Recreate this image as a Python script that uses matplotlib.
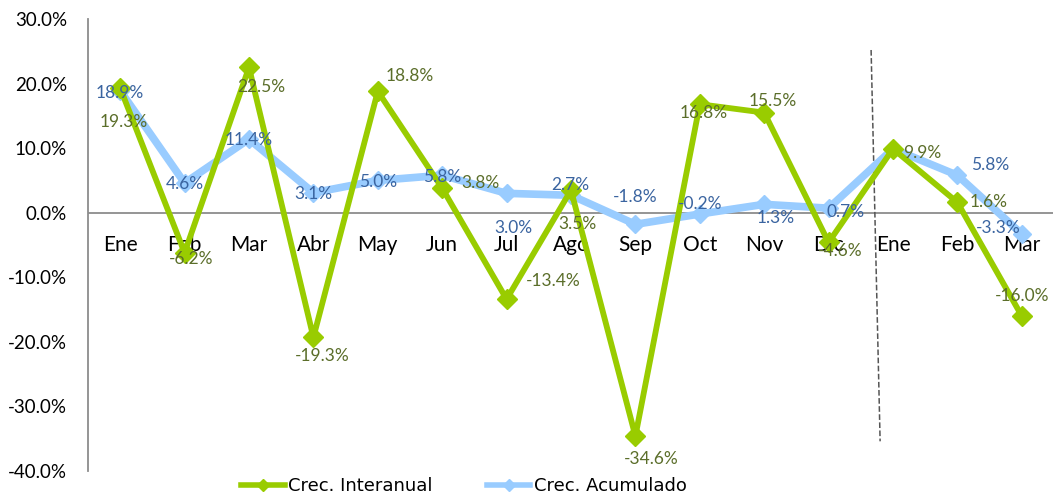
import matplotlib.pyplot as plt
from matplotlib.lines import Line2D

# data
months = ["Ene", "Feb", "Mar", "Abr", "May", "Jun", "Jul", "Ago", "Sep", "Oct",
          "Nov", "Dic", "Ene", "Feb", "Mar"]
interanual = [19.3, -6.2, 22.5, -19.3, 18.8, 3.8, -13.4, 3.5, -34.6, 16.8,
              15.5, -4.6, 9.9, 1.6, -16.0]
acumulado = [18.9, 4.6, 11.4, 3.1, 5.0, 5.8, 3.0, 2.7, -1.8, -0.2,
             1.3, 0.7, 9.9, 5.8, -3.3]
y_ticks = [-40, -30, -20, -10, 0, 10, 20, 30]

# label offsets in pixels (dx, dy), placed like the Excel original
off_inter = [(4, -34), (7, -6), (12, -20), (9, -19), (32, 15), (38, 5), (47, 18),
             (6, -34), (16, -23), (4, -9), (9, 12), (12, -9), (29, -4), (31, 0), (0, 20)]
off_acum = [(0, -2), (0, -1), (0, -1), (0, -1), (0, -2), (0, -2), (7, -35),
            (-1, 10), (0, 27), (0, 10), (11, -14), (17, -4), (0, 0), (33, 10), (-24, 6)]

GREEN = "#99CC00"
GREEN_TXT = "#5B6E2A"
BLUE = "#99CCFF"
BLUE_TXT = "#3A64A0"
FONT = "Lato"

fig = plt.figure(figsize=(10.53, 4.98), dpi=100)
ax = fig.add_axes([88 / 1053, 27 / 498, 966 / 1053, 452 / 498])

x = list(range(len(months)))
ax.plot(x, acumulado, color=BLUE, linewidth=5.5, marker="D", markersize=9,
        markerfacecolor=BLUE, markeredgecolor=BLUE, zorder=3)
ax.plot(x, interanual, color=GREEN, linewidth=4.2, marker="D", markersize=10.5,
        markerfacecolor=GREEN, markeredgecolor=GREEN, zorder=4)

for i, v in enumerate(acumulado):
    if i == 12:
        continue  # hidden under the interanual label in the original
    ax.annotate(f"{v:.1f}%", (i, v), xytext=off_acum[i], textcoords="offset pixels",
                ha="center", va="center", color=BLUE_TXT, fontsize=12.5,
                family=FONT, zorder=5)
for i, v in enumerate(interanual):
    ax.annotate(f"{v:.1f}%", (i, v), xytext=off_inter[i], textcoords="offset pixels",
                ha="center", va="center", color=GREEN_TXT, fontsize=12.5,
                family=FONT, zorder=6)

# category labels sit right under the zero line
for i, m in enumerate(months):
    ax.text(i, -5.0, m, ha="center", va="center", fontsize=15, family=FONT,
            color="black", zorder=2)

ax.axhline(0, color="#8C8C8C", linewidth=1.3, zorder=1)
# dashed separator between years
ax.plot([11.66, 11.80], [25.2, -35.4], color="#555555", linestyle="--",
        linewidth=1.1, zorder=2)

ax.set_xlim(-0.5, 14.5)
ax.set_ylim(-40, 30)
ax.set_yticks(y_ticks)
ax.set_yticklabels([f"{t:.1f}%" for t in y_ticks], family=FONT, fontsize=13.5)
ax.set_xticks([])
ax.tick_params(axis="y", length=0, pad=15)
for s in ["top", "right", "bottom"]:
    ax.spines[s].set_visible(False)
ax.spines["left"].set_color("#8C8C8C")
ax.spines["left"].set_linewidth(1.3)

handles = [
    Line2D([], [], color=GREEN, linewidth=4, marker="D", markersize=6),
    Line2D([], [], color=BLUE, linewidth=4, marker="D", markersize=6),
]
fig.legend(handles, ["Crec. Interanual", "Crec. Acumulado"], loc="center",
           bbox_to_anchor=(464 / 1053, 1 - 486 / 498), ncol=2, frameon=False,
           prop={"family": "DejaVu Sans", "size": 13}, handlelength=2.4,
           handletextpad=0.2, columnspacing=3.0)

fig.savefig("out.png", dpi=100)
